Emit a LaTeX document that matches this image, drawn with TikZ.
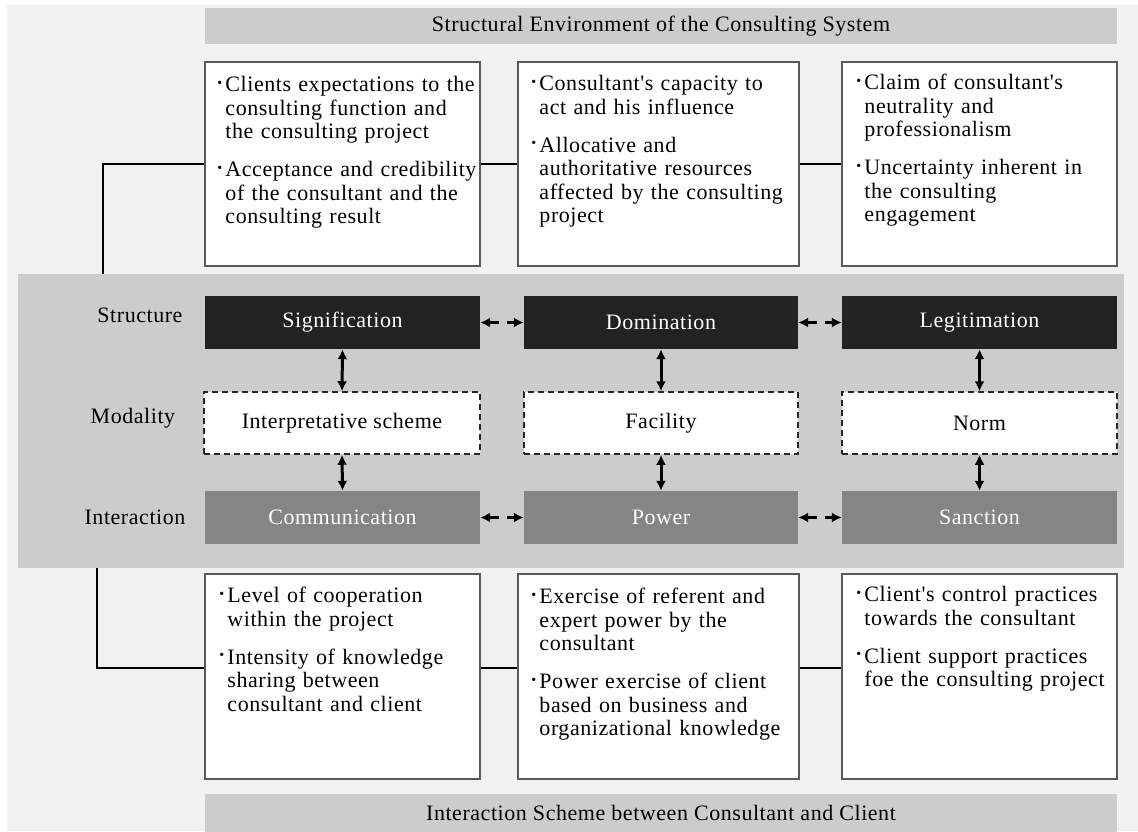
\documentclass[tikz,border=0pt]{standalone}
\usepackage{fontspec}
\newfontfamily\diagfont{Liberation Serif}[LetterSpace=2.5]
\usetikzlibrary{arrows.meta}

\definecolor{pagebg}{HTML}{F1F1F1}
\definecolor{band}{HTML}{CCCCCC}
\definecolor{structfill}{HTML}{222222}
\definecolor{interfill}{HTML}{858585}
\definecolor{frame}{HTML}{5A5A5A}

% one bulleted entry with a hanging indent; lines are broken with \newline
\newcommand\bitem[1]{\noindent\hangindent=8pt\hangafter=1\makebox[8pt][l]{\raisebox{4.5pt}{\fontsize{14}{14}\selectfont\textbullet}}#1\par}

\tikzset{
  txt/.style={font=\diagfont\fontsize{22}{23.5}\selectfont},
  banner/.style={txt, fill=band, inner sep=0pt, minimum width=912pt, minimum height=36pt},
  infobox/.style={draw=frame, line width=1.5pt, fill=white, inner sep=0pt, minimum height=204pt},
  textblock/.style={txt, anchor=north west, inner sep=0pt, text width=320pt,
    execute at begin node={\setlength\parskip{14.5pt}\raggedright}},
  structbox/.style={txt, fill=structfill, text=white, inner sep=0pt, minimum height=53pt},
  modbox/.style={txt, fill=white, draw=black!85, line width=1.5pt, dash pattern=on 6pt off 4pt, inner sep=0pt, minimum height=62pt},
  interbox/.style={txt, fill=interfill, text=white, inner sep=0pt, minimum height=53pt},
  rowlabel/.style={txt, inner sep=0pt},
  conn/.style={line width=2.2pt, black},
  biarrow/.style={line width=3pt, {Latex[length=10pt,width=10pt]}-{Latex[length=10pt,width=10pt]}},
  dasharrow/.style={biarrow, dash pattern=on 10pt off 8pt}
}

\begin{document}
\begin{tikzpicture}[x=1pt,y=-1pt]
\useasboundingbox (0,0) rectangle (1138,831);
\fill[pagebg] (7,5) rectangle (1138,831);

% banners
\node[banner] (topband) at (661,26) {Structural Environment of the Consulting System};
\node[banner, minimum height=38pt] (botband) at (661,813) {Interaction Scheme between Consultant and Client};

% structural environment boxes
\node[infobox, minimum width=275pt] (tb1) at (342.5,164) {};
\node[infobox, minimum width=281pt] (tb2) at (658.5,164) {};
\node[infobox, minimum width=275pt] (tb3) at (979.5,164) {};

\node[textblock] (tt1) at ([xshift=13pt,yshift=-15pt]tb1.north west) {%
  \bitem{Clients expectations to the\newline consulting function and\newline the consulting project}%
  \bitem{Acceptance and credibility\newline of the consultant and the\newline consulting result}};
\node[textblock] (tt2) at ([xshift=14pt,yshift=-14pt]tb2.north west) {%
  \bitem{Consultant's capacity to\newline act and his influence}%
  \bitem{Allocative and\newline authoritative resources\newline affected by the consulting\newline project}};
\node[textblock] (tt3) at ([xshift=15pt,yshift=-13pt]tb3.north west) {%
  \bitem{Claim of consultant's\newline neutrality and\newline professionalism}%
  \bitem{Uncertainty inherent in\newline the consulting\newline engagement}};

% duality of structure
\node[fill=band, inner sep=0pt, minimum width=1106pt, minimum height=294pt] (core) at (571,421) {};

\node[rowlabel] (lstruct) at (140,315) {Structure};
\node[rowlabel] (lmod) at (133,418) {Modality};
\node[rowlabel] (linter) at (135,517) {Interaction};

\node[structbox, minimum width=275pt] (sig) at (342.5,322.5) {Signification};
\node[structbox, minimum width=274pt] (dom) at (661,322.5) {Domination};
\node[structbox, minimum width=275pt] (leg) at (979.5,322.5) {Legitimation};

\node[modbox, minimum width=276pt] (interp) at (342,423) {Interpretative scheme};
\node[modbox, minimum width=274pt] (fac) at (661,423) {Facility};
\node[modbox, minimum width=275pt] (norm) at (979.5,423) {Norm};

\node[interbox, minimum width=275pt] (comm) at (342.5,517.5) {Communication};
\node[interbox, minimum width=274pt] (pow) at (661,517.5) {Power};
\node[interbox, minimum width=275pt] (sanc) at (979.5,517.5) {Sanction};

\draw[dasharrow] (sig.east) -- (dom.west);
\draw[dasharrow] (dom.east) -- (leg.west);
\draw[dasharrow] (comm.east) -- (pow.west);
\draw[dasharrow] (pow.east) -- (sanc.west);

\draw[biarrow] (sig.south) -- (interp.north);
\draw[biarrow] (interp.south) -- (comm.north);
\draw[biarrow] (dom.south) -- (fac.north);
\draw[biarrow] (fac.south) -- (pow.north);
\draw[biarrow] (leg.south) -- (norm.north);
\draw[biarrow] (norm.south) -- (sanc.north);

% interaction boxes
\node[infobox, minimum width=275pt, minimum height=205pt] (bb1) at (342.5,676.5) {};
\node[infobox, minimum width=281pt, minimum height=205pt] (bb2) at (658.5,676.5) {};
\node[infobox, minimum width=275pt, minimum height=205pt] (bb3) at (979.5,676.5) {};

\node[textblock] (bt1) at ([xshift=15pt,yshift=-14pt]bb1.north west) {%
  \bitem{Level of cooperation\newline within the project}%
  \bitem{Intensity of knowledge\newline sharing between\newline consultant and client}};
\node[textblock] (bt2) at ([xshift=14pt,yshift=-15pt]bb2.north west) {%
  \bitem{Exercise of referent and\newline expert power by the\newline consultant}%
  \bitem{Power exercise of client\newline based on business and\newline organizational knowledge}};
\node[textblock] (bt3) at ([xshift=15pt,yshift=-13pt]bb3.north west) {%
  \bitem{Client's control practices\newline towards the consultant}%
  \bitem{Client support practices\newline foe the consulting project}};

% connectors
\coordinate (ctop) at (103,274);
\coordinate (cbot) at (97,568);
\draw[conn] (ctop) |- (tb1.west);
\draw[conn] (tb1.east) -- (tb2.west);
\draw[conn] (tb2.east) -- (tb3.west);
\draw[conn] (cbot) |- (bb1.west |- 0,668);
\draw[conn] (bb1.east |- 0,668) -- (bb2.west |- 0,668);
\draw[conn] (bb2.east |- 0,668) -- (bb3.west |- 0,668);
\end{tikzpicture}
\end{document}
